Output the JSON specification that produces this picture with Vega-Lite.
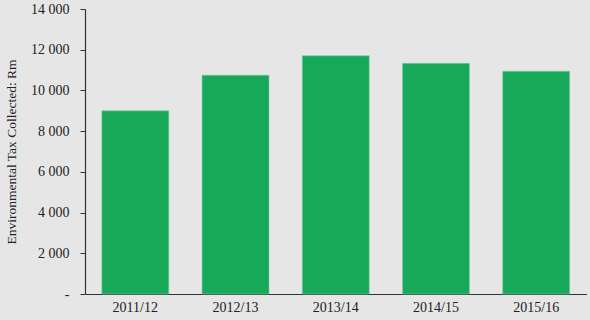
{
  "$schema": "https://vega.github.io/schema/vega-lite/v6.json",
  "autosize": "none",
  "width": 501.5,
  "height": 285,
  "padding": {"left": 85, "top": 9, "right": 3.5, "bottom": 26},
  "background": "#e6e6e6",
  "config": {
    "view": {"stroke": null},
    "font": "Liberation Serif"
  },
  "data": {
    "values": [
      {"year": "2011/12", "tax": 9000},
      {"year": "2012/13", "tax": 10750},
      {"year": "2013/14", "tax": 11700},
      {"year": "2014/15", "tax": 11330},
      {"year": "2015/16", "tax": 10940}
    ]
  },
  "mark": {"type": "bar", "color": "#18a85a", "stroke": "#7fcf9f", "strokeWidth": 0.6},
  "encoding": {
    "x": {
      "field": "year",
      "type": "nominal",
      "scale": {"paddingInner": 0.332, "paddingOuter": 0.168},
      "axis": {
        "title": null,
        "labelAngle": 0,
        "ticks": false,
        "labelFont": "Liberation Serif",
        "labelFontSize": 14,
        "labelColor": "#222222",
        "labelPadding": 6,
        "domainColor": "#333333",
        "domainWidth": 1.2
      }
    },
    "y": {
      "field": "tax",
      "type": "quantitative",
      "scale": {"domain": [0, 14000]},
      "axis": {
        "title": "Environmental Tax Collected: Rm",
        "titleFont": "Liberation Serif",
        "titleFontSize": 13.5,
        "titleFontWeight": "normal",
        "titleColor": "#222222",
        "titlePadding": 12,
        "values": [0, 2000, 4000, 6000, 8000, 10000, 12000, 14000],
        "labelExpr": "datum.value == 0 ? '-' : replace(format(datum.value, ','), ',', ' ')",
        "labelFont": "Liberation Serif",
        "labelFontSize": 14,
        "labelColor": "#222222",
        "labelPadding": 11,
        "tickSize": 5,
        "tickColor": "#333333",
        "domainColor": "#333333",
        "domainWidth": 1.2,
        "grid": false
      }
    }
  }
}
